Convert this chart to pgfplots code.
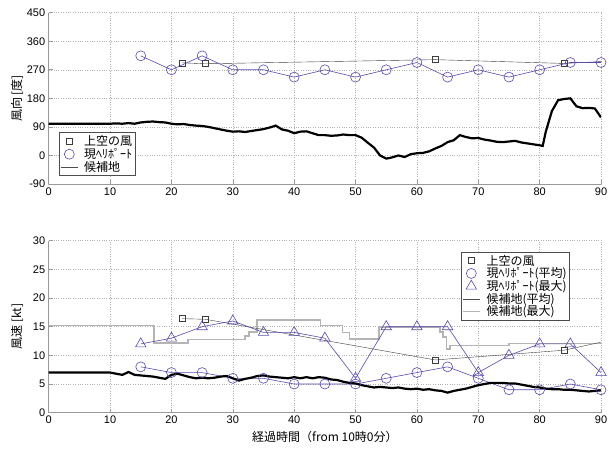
\documentclass[border=0pt]{standalone}
\usepackage{fontspec}
\setmainfont{Liberation Sans}
\newfontfamily\jp{Noto Sans CJK JP}
\usepackage{pgfplots}
\pgfplotsset{compat=1.18}
\definecolor{hp}{RGB}{85,75,175}
\definecolor{sq}{RGB}{60,60,60}
\definecolor{mx}{RGB}{180,180,180}
\pgfplotsset{common/.style={
  scale only axis, width=552.3pt,
  xmin=0, xmax=90, xtick={0,10,...,90},
  axis lines*=left, axis line style={-, gray!80, line width=0.8pt},
  xtick pos=bottom, ytick pos=left,
  grid=major, major grid style={dotted, gray!60, line width=0.5pt},
  tick style={gray!80, line width=0.6pt}, major tick length=4pt, tick align=inside,
  /pgf/number format/assume math mode=true,
  ticklabel style={font=\fontsize{11}{13}\selectfont},
  every axis y label/.style={at={(axis description cs:0,0.5)}, xshift=-31.7pt, rotate=90, anchor=center, font=\jp\fontsize{12}{14}\selectfont},
  every axis x label/.style={at={(axis description cs:0.5,0)}, yshift=-24.5pt, anchor=center, font=\jp\fontsize{12}{14}\selectfont},
  legend style={font=\jp\fontsize{12}{13}\selectfont, draw=gray!60!black, line width=0.6pt, inner sep=1pt, row sep=-3pt, column sep=4pt, cells={anchor=west}},
  legend cell align=left,
}}
\begin{document}
\begin{tikzpicture}
\path[use as bounding box] (0,0) rectangle (616pt,450pt);
% ---------------- top: direction
\begin{axis}[common, at={(48.7pt,266pt)}, anchor=south west, height=171.3pt,
  ymin=-90, ymax=450, ytick={-90,0,...,450},
  ylabel={風向 [度]},
  legend style={at={(0.019,0.047)}, anchor=south west}]
\addplot[sq, line width=0.4pt, forget plot] coordinates {(21.8,292) (25.5,289) (63,302) (84,290) (90,296)};
\addplot[only marks, mark=square, mark size=3pt, sq, mark options={line width=0.6pt}] coordinates {(21.8,292) (25.5,289) (63,302) (84,290)};
\addlegendentry{上空の風}
\addplot[hp, line width=0.6pt, mark=o, mark size=5pt, forget plot] coordinates {
(15,314) (20,270) (25,314) (30,270) (35,270) (40,247) (45,270) (50,247) (55,270) (60,293) (65,247) (70,270) (75,247) (80,270) (85,293) (90,293)};
\addplot[only marks, hp, mark=o, mark size=5pt, mark options={line width=0.6pt}] coordinates {(-100,0)};
\addlegendentry{現ﾍﾘﾎﾟｰﾄ\hspace{6pt}}
\addplot[black, line width=2.2pt, legend image post style={line width=0.6pt, gray!60!black}] coordinates {
(0,100) (10,100) (11,101) (12,100) (13,102) (14,100) (15,104) (16,106) (17,107) (18,105) (19,104)
(20,100) (21,98) (22,99) (23,96) (24,94) (25,93) (26,90) (27,86) (28,82) (29,78) (30,75) (31,76)
(32,74) (33,77) (34,80) (35,83) (36,88) (37,94) (38,82) (39,78) (40,70) (41,75) (42,76) (43,70)
(44,64) (45,64) (46,62) (47,63) (48,66) (49,64) (50,64) (51,56) (52,40) (53,25) (54,0) (55,-10)
(56,-6) (57,0) (58,-5) (59,4) (60,7) (61,8) (62,13) (63,22) (64,30) (65,42) (66,48) (67,64)
(68,58) (69,54) (70,55) (71,50) (72,47) (73,43) (74,42) (75,44) (76,46) (77,41) (78,38) (79,35)
(80,32) (80.5,30) (81,75) (82,140) (83,174) (84,178) (85,180) (86,155) (87,149) (88,150) (89,148) (90,120)};
\addlegendentry{候補地}
\end{axis}
% ---------------- bottom: speed
\begin{axis}[common, at={(48.7pt,37.3pt)}, anchor=south west, height=172pt,
  ymin=0, ymax=30, ytick={0,5,...,30},
  ylabel={風速 [kt]}, xlabel={経過時間（from 10時0分）},
  legend style={at={(0.944,0.936)}, anchor=north east}]
\addplot[mx, line width=1.6pt, forget plot] coordinates {
(0,15.2) (17.2,15.2) (17.2,12.2) (22.7,12.2) (22.7,12.8) (32,12.8) (32,13.4) (32.6,13.4) (32.6,14.1)
(33.9,14.1) (33.9,16.2) (44.3,16.2) (44.3,15.2) (47.9,15.2) (47.9,14.0) (49,14.0) (49,12.9) (53.8,12.9)
(53.8,14.9) (63.8,14.9) (63.8,14.1) (64.3,14.1) (64.3,13.2) (64.8,13.2) (64.8,11.1) (65.4,11.1)
(65.4,11.7) (75,11.7) (75,12.1) (90,12.1)};
\addplot[sq, line width=0.4pt, forget plot] coordinates {(21.8,16.4) (25.5,16.3) (63,9.2) (84,10.9) (90,12.3)};
\addplot[only marks, mark=square, mark size=3pt, sq, mark options={line width=0.6pt}] coordinates {(21.8,16.4) (25.5,16.3) (63,9.2) (84,10.9)};
\addlegendentry{上空の風}
\addplot[hp, line width=0.6pt, mark=o, mark size=5pt, forget plot] coordinates {
(15,8) (20,7) (25,7) (30,6) (35,6) (40,5) (45,5) (50,5) (55,6) (60,7) (65,8) (70,6) (75,4) (80,4) (85,5) (90,4)};
\addplot[only marks, hp, mark=o, mark size=5pt, mark options={line width=0.6pt}] coordinates {(-100,0)};
\addlegendentry{現ﾍﾘﾎﾟｰﾄ(平均)}
\addplot[hp, line width=0.6pt, mark=triangle, mark size=6pt, forget plot] coordinates {
(15,12) (20,13) (25,15) (30,16) (35,14) (40,14) (45,13) (50,6) (55,15) (60,15) (65,15) (70,7) (75,10) (80,12) (85,12) (90,7)};
\addplot[only marks, hp, mark=triangle, mark size=6pt, mark options={line width=0.6pt}] coordinates {(-100,0)};
\addlegendentry{現ﾍﾘﾎﾟｰﾄ(最大)}
\addplot[black, line width=2.2pt, legend image post style={line width=0.6pt, gray!60!black}] coordinates {
(0,7) (10,7) (11,6.8) (12,6.6) (13,7.1) (14,6.6) (15,6.5) (16,6.4) (17,6.3) (18,6.1) (19,5.9)
(20,6.6) (21,6.8) (22,6.5) (23,6.2) (24,6.0) (25,6.1) (26,6.0) (27,6.1) (28,6.3) (29,6.4) (30,6.0)
(31,5.6) (32,5.9) (33,6.1) (34,6.4) (35,6.5) (36,6.3) (37,6.2) (38,6.1) (39,6.0) (40,6.2) (41,6.0)
(42,6.2) (43,6.0) (44,6.2) (45,6.1) (46,5.8) (47,5.7) (48,5.4) (49,5.2) (50,5.1) (51,4.8) (52,4.6)
(53,4.4) (54,4.5) (55,4.4) (56,4.3) (57,4.4) (58,4.2) (59,4.1) (60,4.2) (61,4.0) (62,4.1) (63,3.9)
(64,3.8) (65,3.5) (66,3.8) (67,4.0) (68,4.2) (69,4.5) (70,4.8) (71,5.0) (72,5.2) (73,5.2) (74,5.2)
(75,5.1) (76,5.1) (77,4.9) (78,4.7) (79,4.5) (80,4.4) (81,4.2) (82,4.1) (83,4.1) (84,4.0) (85,4.0)
(86,3.9) (87,3.8) (88,3.7) (89,3.8) (90,3.9)};
\addlegendentry{候補地(平均)}
\addlegendimage{mx, line width=1.6pt}
\addlegendentry{候補地(最大)}
\end{axis}
\end{tikzpicture}
\end{document}
